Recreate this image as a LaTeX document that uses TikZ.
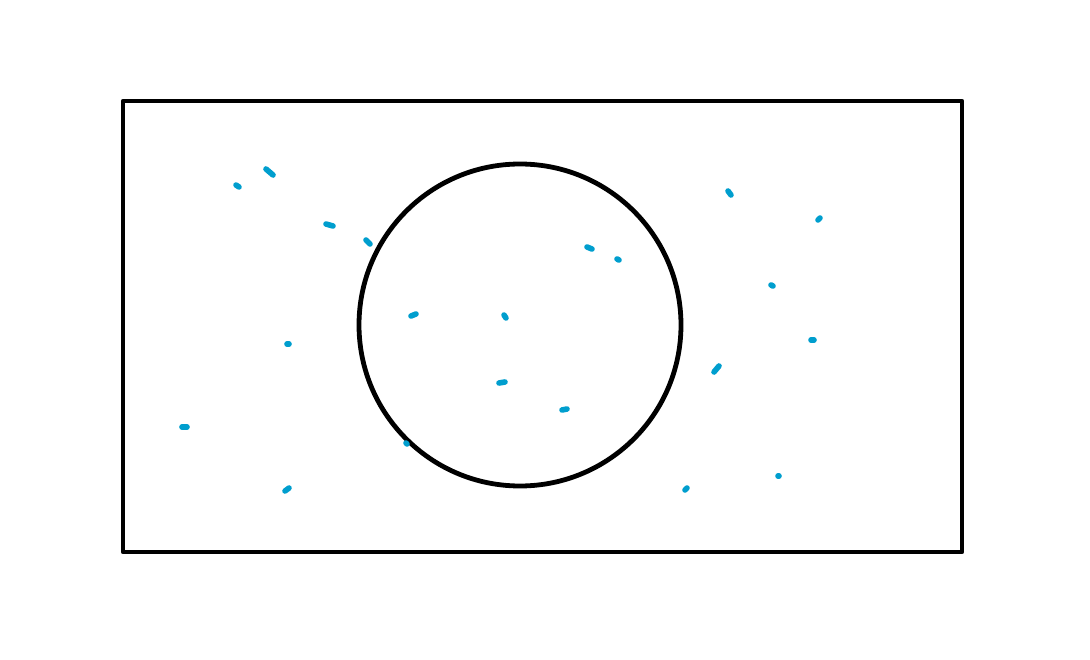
\documentclass[tikz,border=0pt]{standalone}
\definecolor{dotblue}{RGB}{0,158,206}
\tikzset{
  frame/.style={draw=black, line width=4.8pt, line join=round},
  speck/.style={draw=dotblue, line width=5.6pt, line cap=round}
}
\begin{document}
\begin{tikzpicture}[x=1pt,y=-1pt]
\useasboundingbox (0,0) rectangle (1090,660);
\draw[frame] (123,101) rectangle (962,552);
\draw[frame] (520,325) circle (161);
\foreach \a/\b/\c/\d in {
  236/185/239/187, 266/169/273/175, 326/224/333/226, 366/240/370/244,
  287/344/289/344, 182/427/187/427, 285/491/289/488, 411/316/416/314,
  504/315/506/318, 499/383/505/382, 562/410/567/409, 406/443/407/444,
  587/247/592/249, 617/259/619/260, 728/191/731/195, 818/220/820/218,
  771/285/773/286, 811/340/814/340, 714/372/719/366, 685/490/687/488,
  778/476/779/476}
  \draw[speck] (\a,\b) -- (\c,\d);
\end{tikzpicture}
\end{document}
